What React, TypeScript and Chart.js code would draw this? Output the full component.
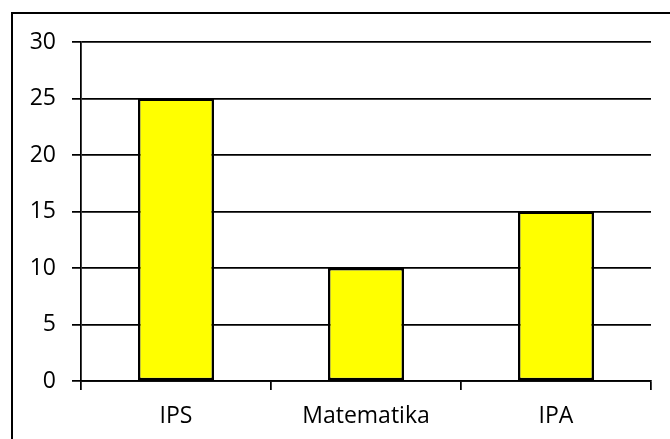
import React, { useEffect, useRef } from "react";
import { Chart, registerables } from "chart.js";

Chart.register(...registerables);

const categories = ["IPS", "Matematika", "IPA"];
const values = [25, 10, 15];
const yTicks = [0, 5, 10, 15, 20, 25, 30];

const frame = {
  id: "frame",
  beforeDraw(chart: any) {
    const ctx = chart.ctx;
    ctx.save();
    ctx.fillStyle = "#fff";
    ctx.fillRect(0, 0, chart.width, chart.height);
    ctx.strokeStyle = "#000";
    ctx.lineWidth = 2;
    ctx.strokeRect(12, 13, 700, 500);
    ctx.restore();
  },
};

export default function App() {
  const ref = useRef<HTMLCanvasElement>(null);
  useEffect(() => {
    document.body.style.margin = "0";
    const chart = new Chart(ref.current!, {
      type: "bar",
      data: {
        labels: categories,
        datasets: [
          {
            data: values,
            backgroundColor: "#ffff00",
            borderColor: "#000",
            borderWidth: 2.5,
            borderSkipped: false,
            categoryPercentage: 1,
            barPercentage: 0.4,
          },
        ],
      },
      options: {
        responsive: false,
        animation: false,
        layout: { padding: { top: 42, right: 19, left: 0, bottom: 0 } },
        plugins: { legend: { display: false }, tooltip: { enabled: false } },
        scales: {
          x: {
            afterFit(s: any) {
              s.height = 58;
            },
            grid: {
              offset: true,
              drawOnChartArea: false,
              drawTicks: true,
              tickLength: 9,
              color: "#000",
              lineWidth: 1.75,
            },
            border: { display: true, color: "#000", width: 1.75 },
            ticks: {
              color: "#000",
              padding: 13,
              font: { family: "Open Sans", size: 23 },
            },
          },
          y: {
            min: 0,
            max: 30,
            afterFit(s: any) {
              s.width = 81;
            },
            afterBuildTicks(s: any) {
              s.ticks = yTicks.map((v) => ({ value: v }));
            },
            grid: {
              color: "#000",
              lineWidth: 1.75,
              drawTicks: true,
              tickLength: 9,
            },
            border: { display: true, color: "#000", width: 1.75 },
            ticks: {
              color: "#000",
              padding: 16,
              font: { family: "Open Sans", size: 23 },
            },
          },
        },
      },
      plugins: [frame],
    });
    return () => chart.destroy();
  }, []);
  return <canvas ref={ref} width={670} height={439} style={{ display: "block" }} />;
}
